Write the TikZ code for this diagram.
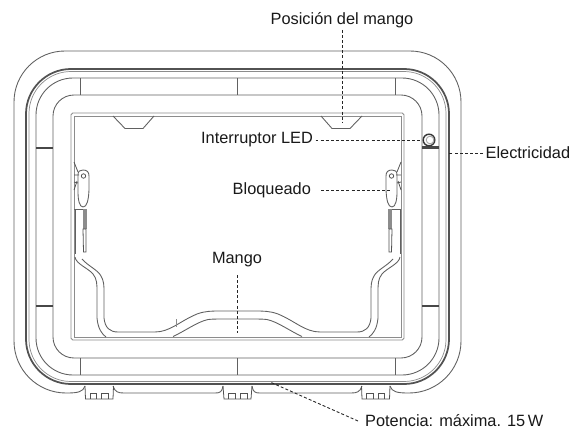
\documentclass[tikz,border=0pt]{standalone}
\usepackage{fontspec}
\setmainfont{Liberation Sans}
\newcommand{\halfcase}{%
  % outer outline with the bottom tabs
  \draw[thinline] (85,386) .. controls (83,392) and (78,393) .. (66,393)
    .. controls (37.3,393) and (14,369.7) .. (14,341) -- (14,102)
    .. controls (14,73.8) and (36.8,51) .. (65,51) -- (237.5,51);
  \draw[thinline] (113,386) .. controls (115,392) and (118,393) .. (124,393) -- (215,393)
    .. controls (220,393) and (222,392) .. (223,386);
  \draw[tabline] (85,386) -- (85.5,399) -- (113,399) -- (113.5,386);
  \draw[tabline] (223,386) -- (224,399) -- (237.5,399);
  \foreach \a/\b in {90.7/96.7,101.7/108.3,228/235}
    \draw[tabline] (\a,399) -- (\a,393.5) -- (\b,393.5) -- (\b,399);
  % dividers
  \draw[thinline] (80,78) -- (80,95);
  \draw[thinline] (80,358) -- (80,375);
  \draw[darkline] (36,148) -- (53,148);
  \draw[darkline] (36,306) -- (53,306);
  % handle notch at the top
  \draw[thinline] (113,116) -- (125,128.5) -- (143,128.5) -- (154,116);
  % latch
  \draw[thinline] (78,175) .. controls (78,171) and (80,170) .. (83,170)
    .. controls (87,170) and (89,172) .. (89,176) -- (89,190)
    .. controls (88.5,200) and (87,207) .. (83,207)
    .. controls (79.5,207) and (78,200) .. (78,192) -- cycle;
  \draw[tabline] (83.5,176) circle[radius=2.2];
  \draw[tabline] (74,162) -- (78,172) (74,175) -- (79,175) (74,182) -- (78,183) (74,190) -- (77,181);
  \draw[thinline] (74,209) -- (85,209);
  \draw[thinline] (75,209) -- (75,254);
  \draw[softline] (84,209) -- (84,229) (86,209) -- (86,229);
  \draw[tabline] (83,229) -- (86,229) -- (86,252) -- (83.5,252) -- cycle;
  % handle
  \draw[thinline] (75,257) .. controls (76,264) and (88,268) .. (93,274)
    .. controls (97,279) and (97,284) .. (97,292) -- (97,318)
    .. controls (98,329) and (102,334) .. (106,337);
  \draw[thinline] (82,259) .. controls (88,266) and (98,270) .. (101,276)
    .. controls (104,281) and (104,286) .. (104,292) -- (104,318)
    .. controls (105,328) and (110,332) .. (118,332) -- (155,332)
    .. controls (170,332) and (180,321) .. (197,314)
    .. controls (205,311) and (212,311) .. (220,311) -- (237.5,311);
  \draw[thinline] (173,336.5) .. controls (185,331) and (197,322) .. (208,319.5)
    .. controls (212,319) and (218,319) .. (225,319) -- (237.5,319);
}
\tikzset{
  thinline/.style={draw=black!62,line width=0.5pt},
  tabline/.style={draw=black!68,line width=0.45pt},
  darkline/.style={draw=black!72,line width=0.6pt},
  softline/.style={draw=black!45,line width=0.7pt},
  heavyline/.style={draw=black!68,line width=1pt},
  leader/.style={draw=black!85,line width=0.5pt,dash pattern=on 1.7pt off 1.2pt},
  lbl/.style={font=\fontsize{9.3}{11}\selectfont,text=black!90,inner sep=0pt,outer sep=1.5pt}
}
\begin{document}
\begin{tikzpicture}[x=0.02cm,y=-0.02cm]
\useasboundingbox[fill=white] (0,0) rectangle (570,429);
% nested rims
\draw[heavyline,rounded corners=0.9cm] (26,69) rectangle (449,384);
\draw[softline,rounded corners=0.84cm,line width=0.4pt] (29,71.5) rectangle (446,381.5);
\draw[thinline,rounded corners=0.74cm] (36,78) rectangle (439,375);
\draw[thinline,rounded corners=0.42cm] (53,95) rectangle (422,358);
\draw[softline,rounded corners=1pt,line width=0.55pt] (71,113) rectangle (404,340);
\draw[softline,line width=0.55pt] (74,116) rectangle (401,337);
% symmetric details
\halfcase
\begin{scope}[shift={(475,0)},xscale=-1]
\halfcase
\end{scope}
\draw[draw=black!45,line width=0.45pt] (176,319) -- (176,327);
\draw[thinline] (237.5,78) -- (237.5,95);
\draw[thinline] (237.5,358) -- (237.5,375);
% LED switch
\draw[darkline] (422,147) -- (439,147);
\draw[draw=black!78,fill=white,line width=0.8pt] (429,140) circle[radius=5.8];
\draw[draw=black!35,line width=0.5pt] (430,140) circle[radius=3.8];
% labels
\node[lbl] (pos) at (342,20) {Posición del mango};
\node[lbl,anchor=east] (led) at (315.5,140) {Interruptor LED};
\node[lbl,anchor=east] (blo) at (313.5,190.5) {Bloqueado};
\node[lbl,anchor=west] (ele) at (483,153) {Electricidad};
\node[lbl] (man) at (237,260) {Mango};
\node[lbl,anchor=west] (pot) at (362.5,421) {Potencia: máxima. 15\,W};
\coordinate (posend) at (342,122);
\coordinate (ledend) at (423,140);
\coordinate (bloend) at (390,190);
\coordinate (bloout) at (321,190);
\coordinate (eleend) at (449,153);
\coordinate (manend) at (237,333);
\coordinate (potend) at (270,382);
\coordinate (posstart) at (342,30);
\coordinate (manstart) at (237,275);
\coordinate (potstart) at (358,421);
\draw[leader] (posstart) -- (posend);
\draw[leader] (led) -- (ledend);
\draw[leader] (bloout) -- (bloend);
\draw[leader] (ele) -- (eleend);
\draw[leader] (manstart) -- (manend);
\draw[leader] (potstart) -- (potend);
\end{tikzpicture}
\end{document}
